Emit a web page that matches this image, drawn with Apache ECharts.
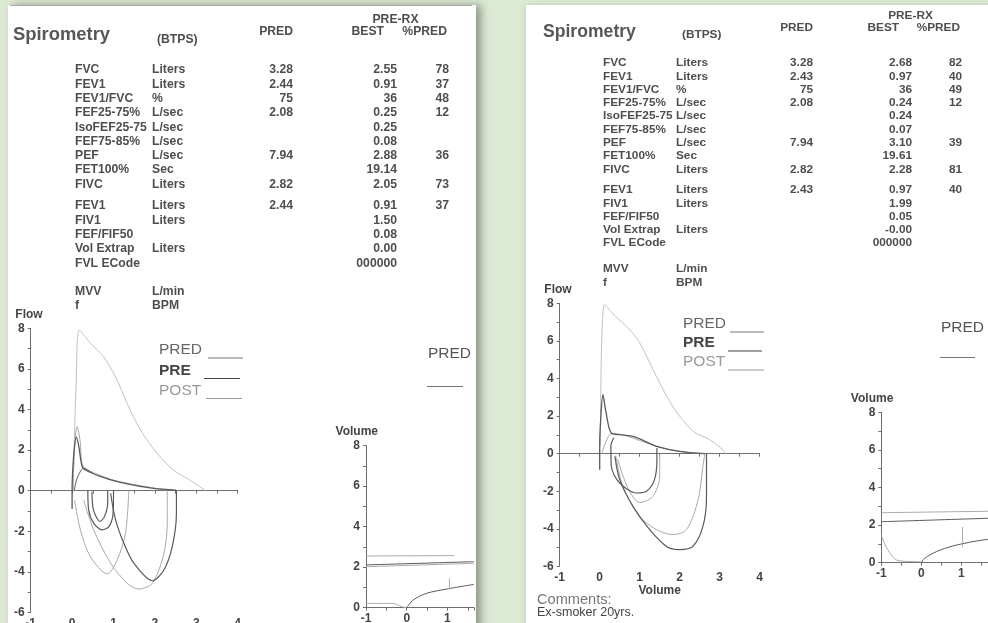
<!DOCTYPE html>
<html>
<head>
<meta charset="utf-8">
<script src="https://cdn.jsdelivr.net/npm/echarts@6/dist/echarts.min.js"></script>
<style>
html, body { margin: 0; padding: 0; background: #dce9d3; overflow: hidden; }
#chart { width: 988px; height: 623px; }
</style>
</head>
<body>
<div id="chart"></div>
<script>
// table rows (same for both reports)
const rowNames = ['FVC', 'FEV1', 'FEV1/FVC', 'FEF25-75%', 'IsoFEF25-75', 'FEF75-85%', 'PEF', 'FET100%', 'FIVC',
  'FEV1', 'FIV1', 'FEF/FIF50', 'Vol Extrap', 'FVL ECode', 'MVV', 'f']
const rowUnits = ['Liters', 'Liters', '%', 'L/sec', 'L/sec', 'L/sec', 'L/sec', 'Sec', 'Liters',
  'Liters', 'Liters', '', 'Liters', '', 'L/min', 'BPM']

// left report
const predL = ['3.28', '2.44', '75', '2.08', '', '', '7.94', '', '2.82', '2.44', '', '', '', '', '', '']
const bestL = ['2.55', '0.91', '36', '0.25', '0.25', '0.08', '2.88', '19.14', '2.05', '0.91', '1.50', '0.08', '0.00', '000000', '', '']
const pctL = ['78', '37', '48', '12', '', '', '36', '', '73', '37', '', '', '', '', '', '']

// right report
const predR = ['3.28', '2.43', '75', '2.08', '', '', '7.94', '', '2.82', '2.43', '', '', '', '', '', '']
const bestR = ['2.68', '0.97', '36', '0.24', '0.24', '0.07', '3.10', '19.61', '2.28', '0.97', '1.99', '0.05', '-0.00', '000000', '', '']
const pctR = ['82', '40', '49', '12', '', '', '39', '', '81', '40', '', '', '', '', '', '']

const legendNames = ['PRED', 'PRE', 'POST']
const comments = ['Comments:', 'Ex-smoker 20yrs.']

// flow-volume curves, left report [volume, flow]
const flowPredL = [[0.02, 0], [0.1, 5.4], [0.18, 7.9], [0.45, 7.25], [0.76, 6.6], [1.05, 5.6], [1.33, 4.3], [1.65, 3.0], [2.05, 1.85], [2.46, 1.0], [2.86, 0.5], [3.22, 0]]
const flowPreL = [[0, -0.9], [0, 0], [0.02, 1.2], [0.06, 2.2], [0.1, 2.65], [0.16, 2.2], [0.24, 1.2], [0.32, 1.02], [0.68, 0.7], [1.09, 0.44], [1.49, 0.27], [1.97, 0.11], [2.51, 0.02]]
const flowPostL = [[0.02, 0], [0.07, 2.5], [0.12, 3.15], [0.19, 2.5], [0.27, 1.2], [0.6, 0.82], [1.0, 0.52], [1.5, 0.3], [2.0, 0.12], [2.3, 0.03]]
const flowPre2L = [[0.05, 0], [0.12, 0.6], [0.28, 1.1], [0.5, 0.85]]
const loopAL = [[0.48, -0.05], [0.5, -0.79], [0.56, -1.2], [0.67, -1.52], [0.78, -1.28], [0.86, -0.62], [0.86, 0]]
const loopBL = [[0.38, 0], [0.4, -0.95], [0.52, -1.6], [0.73, -1.93], [0.89, -1.77], [0.99, -1.11], [1.0, 0]]
const loopCL = [[0.93, -0.13], [1.05, -1.44], [1.25, -2.59], [1.49, -3.57], [1.94, -4.44], [2.22, -3.9], [2.42, -2.75], [2.52, -1.11], [2.52, 0]]
const loopDL = [[0.06, -0.46], [0.2, -1.93], [0.44, -3.25], [0.85, -4.1], [1.09, -3.41], [1.29, -2.1], [1.37, 0]]
const loopEL = [[0.28, -0.46], [0.52, -1.93], [0.93, -3.57], [1.33, -4.56], [1.61, -4.85], [1.94, -4.56], [2.22, -3.08], [2.3, -1.44], [2.3, 0]]

// flow-volume curves, right report
const flowPredR = [[0.02, 0.4], [0.12, 7.93], [0.4, 7.3], [0.75, 6.6], [1.0, 5.9], [1.42, 4.1], [1.83, 2.5], [2.33, 1.2], [2.75, 0.75], [3.08, 0.2], [3.15, 0]]
const flowPreR = [[0, -0.85], [0, 0.5], [0.03, 2.0], [0.08, 3.14], [0.15, 2.3], [0.29, 1.1], [0.55, 1.0], [0.83, 0.92], [1.1, 0.7], [1.42, 0.39], [2.0, 0.12], [2.63, 0]]
const flowPostR = [[0.05, 0], [0.3, 1.08], [0.6, 1.0], [1.0, 0.7], [1.5, 0.35], [2.0, 0.12], [2.6, 0]]
const loopSmallR = [[0.35, 0.85], [0.28, 0.4], [0.29, -0.67], [0.5, -1.56], [0.92, -2.09], [1.17, -2.0], [1.37, -1.38], [1.43, -0.32], [1.43, 0.3]]
const loopBigR = [[0.38, -0.14], [0.5, -1.38], [0.83, -2.8], [1.25, -4.04], [1.67, -4.93], [2.0, -5.1], [2.33, -4.93], [2.58, -3.87], [2.67, -2.27], [2.67, 0]]
const loopPostR = [[0.4, -0.1], [0.58, -1.74], [1.0, -3.33], [1.42, -4.04], [1.83, -4.3], [2.17, -4.04], [2.46, -2.45], [2.58, -0.67], [2.63, 0]]
const loopPost2R = [[0.45, -0.3], [0.7, -1.8], [1.0, -2.6], [1.33, -2.27], [1.5, -1.2], [1.5, 0]]

// volume-time curves [time, volume]
const volTopL = [[-1, 2.55], [1.16, 2.57]]
const volMidL = [[-1, 2.11], [1.65, 2.27]]
const volMid2L = [[-1, 2.02], [1.65, 2.19]]
const volLowL = [[-1, 0.21], [-0.33, 0.21], [-0.12, 0.05], [0, 0]]
const volRiseL = [[0, 0], [0.16, 0.38], [0.49, 0.71], [0.98, 0.92], [1.65, 1.15]]
const volMarkL = [[1.05, 0.9], [1.05, 1.45]]

const volTopR = [[-1, 2.66], [2.5, 2.76]]
const volMidR = [[-1, 2.18], [2.5, 2.42]]
const volLowR = [[-1, 1.47], [-0.92, 1.03], [-0.75, 0.41], [-0.58, 0.11], [0, 0.05]]
const volRiseR = [[0, 0], [0.08, 0.23], [0.38, 0.59], [0.79, 0.89], [1.29, 1.12], [1.66, 1.24], [2.5, 1.42]]
const volMarkR = [[1.03, 0.85], [1.03, 1.9]]

const FONT = '"Liberation Sans", Arial, sans-serif'
const TXT = '#4e4e4e'
const AX = '#6e6e6e'
const C_PRED = '#c2c2c2'
const C_PRE = '#5a5a5a'
const C_POST = '#a9a9a9'

const chart = echarts.init(document.getElementById('chart'))

const txt = (text, x, y, size, o = {}) => ({
  type: 'text', x, y, z: 10, silent: true,
  style: {
    text, fill: o.color || TXT,
    font: `${o.weight || 'bold'} ${size}px ${FONT}`,
    align: o.align || 'left', verticalAlign: 'middle',
    textAlign: o.align || 'left', textVerticalAlign: 'middle'
  }
})
const seg = (x1, y1, x2, y2, color) => ({
  type: 'line', z: 10, silent: true,
  shape: { x1, y1, x2, y2 },
  style: { stroke: color, lineWidth: 1.2 }
})

const graphics = [
  { type: 'rect', z: -5, silent: true, shape: { x: 8, y: 5, width: 468, height: 640 },
    style: { fill: '#fff', shadowBlur: 8, shadowOffsetX: 5, shadowColor: 'rgba(0,0,0,0.35)' } },
  { type: 'rect', z: -5, silent: true, shape: { x: 526, y: 5, width: 470, height: 640 },
    style: { fill: '#fff', shadowBlur: 6, shadowColor: 'rgba(0,0,0,0.12)' } },
  seg(10, 5.5, 472, 5.5, '#aaa')
]

// one report block
function report (ox, cols, rowY, head, pred, best, pct, size) {
  graphics.push(txt('Spirometry', ox + head.spX, head.spY, head.spSize, { color: '#575757' }))
  graphics.push(txt('(BTPS)', ox + head.btX, head.btY, size))
  graphics.push(txt('PRED', cols.pred, head.colY, size, { align: 'right' }))
  graphics.push(txt('PRE-RX', head.rxX, head.rxY, size, { align: 'center' }))
  graphics.push(txt('BEST', cols.best - 13, head.colY, size, { align: 'right' }))
  graphics.push(txt('%PRED', cols.pct - 2, head.colY, size, { align: 'right' }))
  rowNames.forEach((n, i) => {
    const y = rowY[i]
    graphics.push(txt(n, cols.name, y, size))
    if (rowUnits[i]) graphics.push(txt(rowUnits[i], cols.unit, y, size))
    if (pred[i]) graphics.push(txt(pred[i], cols.pred, y, size, { align: 'right' }))
    if (best[i]) graphics.push(txt(best[i], cols.best, y, size, { align: 'right' }))
    if (pct[i]) graphics.push(txt(pct[i], cols.pct, y, size, { align: 'right' }))
  })
}

const rowsY = (a, b, c, step) => rowNames.map((_, i) =>
  i < 9 ? a + i * step : i < 14 ? b + (i - 9) * step : c + (i - 14) * step)

report(0, { name: 75, unit: 152, pred: 293, best: 397, pct: 449 }, rowsY(70, 206, 291.5, 14.3),
  { spX: 13, spY: 35, spSize: 18.4, btX: 157, btY: 40, colY: 31.7, rxX: 395.5, rxY: 20 },
  predL, bestL, pctL, 12.2)
report(494, { name: 603, unit: 676, pred: 813, best: 912, pct: 962 }, rowsY(63, 190, 269, 13.3),
  { spX: 49, spY: 31.7, spSize: 17.6, btX: 188, btY: 35, colY: 27.5, rxX: 910.5, rxY: 15.7 },
  predR, bestR, pctR, 11.8)

// legends
function legendBlock (x, ys, lines) {
  const styles = [{ color: '#666', weight: 'normal' }, { color: '#444', weight: 'bold' }, { color: '#9a9a9a', weight: 'normal' }]
  const strokes = ['#777', '#444', '#999']
  legendNames.forEach((n, i) => {
    graphics.push(txt(n, x, ys[i], 15.5, styles[i]))
    graphics.push(seg(lines[i][0], ys[i] + 8, lines[i][1], ys[i] + 8, strokes[i]))
  })
}
legendBlock(159, [350, 370.5, 390.5], [[208, 243], [204, 240], [206, 242]])
legendBlock(683, [324, 343, 362], [[730, 764], [728, 762], [728, 764]])
graphics.push(txt('PRED', 428, 354, 15.5, { color: '#555', weight: 'normal' }))
graphics.push(seg(427, 386.5, 463, 386.5, '#777'))
graphics.push(txt('PRED', 941, 327.7, 15.5, { color: '#555', weight: 'normal' }))
graphics.push(seg(940, 357.5, 975, 357.5, '#777'))

graphics.push(txt(comments[0], 537, 599.5, 14.6, { color: '#777', weight: 'normal' }))
graphics.push(txt(comments[1], 537, 613, 12.5, { color: '#444', weight: 'normal' }))

// axes
const lab = { color: '#444', fontFamily: FONT, fontWeight: 'bold', fontSize: 12 }
const yAx = (gridIndex, min, max, name, gap) => ({
  type: 'value', gridIndex, min, max, interval: 1,
  name, nameLocation: 'end', nameGap: gap, nameTextStyle: { ...lab, align: 'right', padding: [0, -12, 0, 0] },
  axisLine: { show: true, onZero: false, lineStyle: { color: AX } },
  axisTick: { show: true, length: 3, lineStyle: { color: AX } },
  axisLabel: { ...lab, margin: 6, formatter: v => (v % 2 === 0 ? String(v) : '') },
  splitLine: { show: false }
})
const xLineAx = (gridIndex, min, max, showLabel, margin) => ({
  type: 'value', gridIndex, min, max, interval: 0.5, position: 'bottom',
  axisLine: { show: true, onZero: true, lineStyle: { color: AX } },
  axisTick: { show: true, length: 3, lineStyle: { color: AX } },
  axisLabel: { show: showLabel, ...lab, margin, formatter: v => (Number.isInteger(v) ? String(v) : '') },
  splitLine: { show: false }
})
const xLabAx = (gridIndex, min, max) => ({
  type: 'value', gridIndex, min, max, interval: 1, position: 'bottom',
  name: 'Volume', nameLocation: 'middle', nameGap: 11, nameTextStyle: { ...lab },
  axisLine: { show: false, onZero: false }, axisTick: { show: false },
  axisLabel: { ...lab, margin: 5 },
  splitLine: { show: false }
})

const gridBox = (left, top, width, height) => ({ left, top, width, height, containLabel: false, outerBoundsMode: 'none' })
const grid = [
  gridBox(30.7, 328.3, 207, 284.1),
  gridBox(366, 445.5, 107.9, 162.2),
  gridBox(559.7, 303.3, 200, 263.2),
  gridBox(881.3, 412.3, 140, 150.4)
]
const xAxis = [
  xLineAx(0, -1, 4, false, 4), xLabAx(0, -1, 4),
  xLineAx(1, -1, 1.65, true, 5),
  xLineAx(2, -1, 4, false, 4), xLabAx(2, -1, 4),
  xLineAx(3, -1, 2.5, true, 5)
]
const yAxis = [
  yAx(0, -6, 8, 'Flow', 8), yAx(1, 0, 8, 'Volume', 8),
  yAx(2, -6, 8, 'Flow', 8), yAx(3, 0, 8, 'Volume', 8)
]

const ln = (data, xi, yi, color, width = 1) => ({
  type: 'line', data, xAxisIndex: xi, yAxisIndex: yi,
  showSymbol: false, symbol: 'none', smooth: 0.3, silent: true,
  lineStyle: { color, width }, z: 3
})

const series = [
  ln(flowPredL, 0, 0, C_PRED), ln(flowPostL, 0, 0, C_POST), ln(flowPre2L, 0, 0, C_PRE), ln(flowPreL, 0, 0, C_PRE, 1.3),
  ln(loopDL, 0, 0, C_POST), ln(loopEL, 0, 0, C_POST),
  ln(loopAL, 0, 0, C_PRE, 1.2), ln(loopBL, 0, 0, C_PRE, 1.2), ln(loopCL, 0, 0, C_PRE, 1.2),
  ln(volTopL, 2, 1, C_POST), ln(volMid2L, 2, 1, C_POST), ln(volMidL, 2, 1, C_PRE),
  ln(volLowL, 2, 1, C_POST), ln(volRiseL, 2, 1, C_PRE), ln(volMarkL, 2, 1, C_POST),
  ln(flowPredR, 3, 2, C_PRED), ln(flowPostR, 3, 2, C_POST), ln(flowPreR, 3, 2, C_PRE, 1.3),
  ln(loopPostR, 3, 2, C_POST), ln(loopPost2R, 3, 2, C_POST),
  ln(loopSmallR, 3, 2, C_PRE, 1.2), ln(loopBigR, 3, 2, C_PRE, 1.2),
  ln(volTopR, 5, 3, C_POST), ln(volMidR, 5, 3, C_PRE),
  ln(volLowR, 5, 3, C_POST), ln(volRiseR, 5, 3, C_PRE), ln(volMarkR, 5, 3, C_POST)
]

chart.setOption({
  backgroundColor: '#dce9d3',
  animation: false,
  grid,
  xAxis,
  yAxis,
  series,
  graphic: graphics
})
</script>
</body>
</html>
